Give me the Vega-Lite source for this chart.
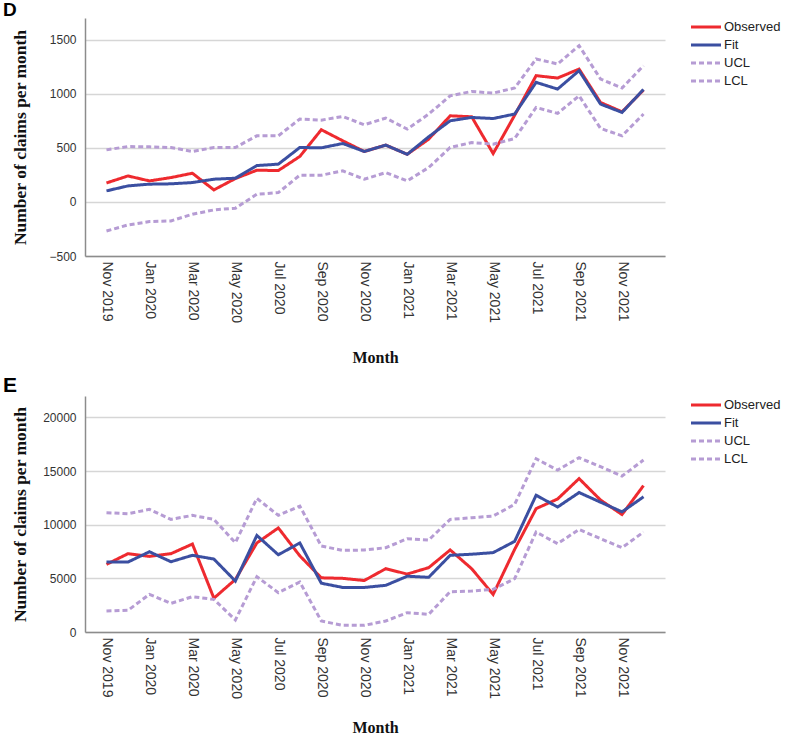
{
  "$schema": "https://vega.github.io/schema/vega-lite/v6.json",
  "padding": {"left": 2, "top": 1, "right": 0, "bottom": 0},
  "background": "white",
  "spacing": 9,
  "datasets": {
    "d": [
      {"month": "Nov 2019", "Observed": 175, "Fit": 102, "UCL": 481, "LCL": -269},
      {"month": "Dec 2019", "Observed": 240, "Fit": 148, "UCL": 512, "LCL": -213},
      {"month": "Jan 2020", "Observed": 194, "Fit": 164, "UCL": 509, "LCL": -182},
      {"month": "Feb 2020", "Observed": 225, "Fit": 167, "UCL": 503, "LCL": -176},
      {"month": "Mar 2020", "Observed": 265, "Fit": 179, "UCL": 466, "LCL": -114},
      {"month": "Apr 2020", "Observed": 111, "Fit": 210, "UCL": 503, "LCL": -74},
      {"month": "May 2020", "Observed": 216, "Fit": 219, "UCL": 503, "LCL": -58},
      {"month": "Jun 2020", "Observed": 293, "Fit": 336, "UCL": 611, "LCL": 71},
      {"month": "Jul 2020", "Observed": 290, "Fit": 349, "UCL": 611, "LCL": 86},
      {"month": "Aug 2020", "Observed": 420, "Fit": 503, "UCL": 766, "LCL": 247},
      {"month": "Sep 2020", "Observed": 667, "Fit": 500, "UCL": 756, "LCL": 247},
      {"month": "Oct 2020", "Observed": 565, "Fit": 540, "UCL": 790, "LCL": 287},
      {"month": "Nov 2020", "Observed": 466, "Fit": 466, "UCL": 713, "LCL": 210},
      {"month": "Dec 2020", "Observed": 525, "Fit": 525, "UCL": 775, "LCL": 271},
      {"month": "Jan 2021", "Observed": 440, "Fit": 440, "UCL": 673, "LCL": 194},
      {"month": "Feb 2021", "Observed": 580, "Fit": 602, "UCL": 812, "LCL": 318},
      {"month": "Mar 2021", "Observed": 796, "Fit": 750, "UCL": 981, "LCL": 503},
      {"month": "Apr 2021", "Observed": 787, "Fit": 781, "UCL": 1021, "LCL": 549},
      {"month": "May 2021", "Observed": 447, "Fit": 771, "UCL": 1006, "LCL": 534},
      {"month": "Jun 2021", "Observed": 800, "Fit": 812, "UCL": 1053, "LCL": 586},
      {"month": "Jul 2021", "Observed": 1167, "Fit": 1105, "UCL": 1321, "LCL": 873},
      {"month": "Aug 2021", "Observed": 1145, "Fit": 1043, "UCL": 1275, "LCL": 818},
      {"month": "Sep 2021", "Observed": 1228, "Fit": 1213, "UCL": 1444, "LCL": 981},
      {"month": "Oct 2021", "Observed": 919, "Fit": 904, "UCL": 1136, "LCL": 679},
      {"month": "Nov 2021", "Observed": 833, "Fit": 827, "UCL": 1053, "LCL": 611},
      {"month": "Dec 2021", "Observed": 1034, "Fit": 1040, "UCL": 1259, "LCL": 812}
    ],
    "e": [
      {"month": "Nov 2019", "Observed": 6300, "Fit": 6520, "UCL": 11119, "LCL": 1957},
      {"month": "Dec 2019", "Observed": 7300, "Fit": 6520, "UCL": 11026, "LCL": 2019},
      {"month": "Jan 2020", "Observed": 7050, "Fit": 7480, "UCL": 11430, "LCL": 3510},
      {"month": "Feb 2020", "Observed": 7300, "Fit": 6550, "UCL": 10498, "LCL": 2671},
      {"month": "Mar 2020", "Observed": 8200, "Fit": 7150, "UCL": 10871, "LCL": 3292},
      {"month": "Apr 2020", "Observed": 3150, "Fit": 6800, "UCL": 10498, "LCL": 3044},
      {"month": "May 2020", "Observed": 4900, "Fit": 4750, "UCL": 8324, "LCL": 1118},
      {"month": "Jun 2020", "Observed": 8300, "Fit": 9000, "UCL": 12455, "LCL": 5156},
      {"month": "Jul 2020", "Observed": 9700, "Fit": 7200, "UCL": 10871, "LCL": 3665},
      {"month": "Aug 2020", "Observed": 7100, "Fit": 8300, "UCL": 11741, "LCL": 4659},
      {"month": "Sep 2020", "Observed": 5050, "Fit": 4550, "UCL": 8013, "LCL": 1025},
      {"month": "Oct 2020", "Observed": 5000, "Fit": 4150, "UCL": 7610, "LCL": 621},
      {"month": "Nov 2020", "Observed": 4800, "Fit": 4150, "UCL": 7641, "LCL": 621},
      {"month": "Dec 2020", "Observed": 5900, "Fit": 4350, "UCL": 7858, "LCL": 1025},
      {"month": "Jan 2021", "Observed": 5400, "Fit": 5200, "UCL": 8697, "LCL": 1801},
      {"month": "Feb 2021", "Observed": 6000, "Fit": 5100, "UCL": 8573, "LCL": 1646},
      {"month": "Mar 2021", "Observed": 7650, "Fit": 7150, "UCL": 10498, "LCL": 3758},
      {"month": "Apr 2021", "Observed": 5900, "Fit": 7250, "UCL": 10653, "LCL": 3820},
      {"month": "May 2021", "Observed": 3500, "Fit": 7400, "UCL": 10809, "LCL": 3976},
      {"month": "Jun 2021", "Observed": 7700, "Fit": 8450, "UCL": 11896, "LCL": 4970},
      {"month": "Jul 2021", "Observed": 11500, "Fit": 12750, "UCL": 16151, "LCL": 9318},
      {"month": "Aug 2021", "Observed": 12400, "Fit": 11650, "UCL": 15095, "LCL": 8231},
      {"month": "Sep 2021", "Observed": 14300, "Fit": 13000, "UCL": 16244, "LCL": 9566},
      {"month": "Oct 2021", "Observed": 12300, "Fit": 12100, "UCL": 15406, "LCL": 8697},
      {"month": "Nov 2021", "Observed": 10950, "Fit": 11200, "UCL": 14536, "LCL": 7858},
      {"month": "Dec 2021", "Observed": 13650, "Fit": 12600, "UCL": 16027, "LCL": 9318}
    ]
  },
  "vconcat": [
    {
      "title": {"text": "D", "anchor": "start", "frame": "bounds", "fontSize": 19, "dx": -8, "dy": 0, "offset": -2},
      "width": 580,
      "height": 238,
      "data": {"name": "d"},
      "transform": [{"fold": ["Observed", "Fit", "UCL", "LCL"], "as": ["series", "value"]}],
      "mark": {"type": "line", "strokeWidth": 3},
      "encoding": {
        "x": {
          "field": "month", "type": "ordinal", "sort": null,
          "scale": {"type": "point", "padding": 2},
          "axis": {
            "values": ["Nov 2019", "Jan 2020", "Mar 2020", "May 2020", "Jul 2020", "Sep 2020", "Nov 2020", "Jan 2021", "Mar 2021", "May 2021", "Jul 2021", "Sep 2021", "Nov 2021"],
            "labelAngle": 90, "labelAlign": "left", "labelBaseline": "middle",
            "labelFontSize": 14, "labelPadding": 5, "grid": false,
            "title": "Month", "titlePadding": 27
          }
        },
        "y": {
          "field": "value", "type": "quantitative",
          "scale": {"domain": [-500, 1700], "nice": false, "zero": false},
          "axis": {
            "values": [-500, 0, 500, 1000, 1500], "format": "d",
            "title": "Number of claims per month", "titleFontSize": 17.5,
            "labelFontSize": 12, "labelPadding": 9, "grid": true,
            "titleX": -65, "titleBaseline": "middle"
          }
        },
        "color": {
          "field": "series", "type": "nominal",
          "scale": {"domain": ["Observed", "Fit", "UCL", "LCL"], "range": ["#ee2a2f", "#3b4fa1", "#b69cd4", "#b69cd4"]},
          "legend": {"title": null}
        },
        "strokeDash": {
          "field": "series", "type": "nominal",
          "scale": {"domain": ["Observed", "Fit", "UCL", "LCL"], "range": [[1, 0], [1, 0], [5, 3], [5, 3]]},
          "legend": {"title": null}
        }
      }
    },
    {
      "title": {"text": "E", "anchor": "start", "frame": "bounds", "fontSize": 21, "dx": -8, "offset": 0},
      "width": 580,
      "height": 236,
      "data": {"name": "e"},
      "transform": [{"fold": ["Observed", "Fit", "UCL", "LCL"], "as": ["series", "value"]}],
      "mark": {"type": "line", "strokeWidth": 3},
      "encoding": {
        "x": {
          "field": "month", "type": "ordinal", "sort": null,
          "scale": {"type": "point", "padding": 2},
          "axis": {
            "values": ["Nov 2019", "Jan 2020", "Mar 2020", "May 2020", "Jul 2020", "Sep 2020", "Nov 2020", "Jan 2021", "Mar 2021", "May 2021", "Jul 2021", "Sep 2021", "Nov 2021"],
            "labelAngle": 90, "labelAlign": "left", "labelBaseline": "middle",
            "labelFontSize": 14, "labelPadding": 5, "grid": false,
            "title": "Month", "titlePadding": 21
          }
        },
        "y": {
          "field": "value", "type": "quantitative",
          "scale": {"domain": [0, 22000], "nice": false, "zero": false},
          "axis": {
            "values": [0, 5000, 10000, 15000, 20000], "format": "d",
            "title": "Number of claims per month", "titleFontSize": 17.5,
            "labelFontSize": 12, "labelPadding": 9, "grid": true,
            "titleX": -65, "titleBaseline": "middle"
          }
        },
        "color": {
          "field": "series", "type": "nominal",
          "scale": {"domain": ["Observed", "Fit", "UCL", "LCL"], "range": ["#ee2a2f", "#3b4fa1", "#b69cd4", "#b69cd4"]},
          "legend": {"title": null}
        },
        "strokeDash": {
          "field": "series", "type": "nominal",
          "scale": {"domain": ["Observed", "Fit", "UCL", "LCL"], "range": [[1, 0], [1, 0], [5, 3], [5, 3]]},
          "legend": {"title": null}
        }
      }
    }
  ],
  "resolve": {"scale": {"color": "independent", "strokeDash": "independent"}},
  "config": {
    "font": "Liberation Sans",
    "view": {"stroke": null},
    "axis": {
      "labelFont": "Liberation Sans", "labelColor": "#333333",
      "domainColor": "#8c8c8c", "domainWidth": 1.5,
      "gridColor": "#d6d6d6", "gridWidth": 1.5,
      "ticks": false,
      "titleFont": "Liberation Serif", "titleFontWeight": "bold", "titleFontSize": 16, "titleColor": "#111111"
    },
    "legend": {
      "orient": "right", "offset": 32, "padding": 0,
      "symbolType": "M-2,0H2", "symbolSize": 225, "symbolStrokeWidth": 3,
      "labelFont": "Liberation Sans", "labelFontSize": 13, "labelColor": "#222222",
      "labelOffset": 9, "rowPadding": 2
    },
    "title": {"font": "Liberation Sans", "fontWeight": "bold", "color": "#000000", "baseline": "top"}
  }
}
